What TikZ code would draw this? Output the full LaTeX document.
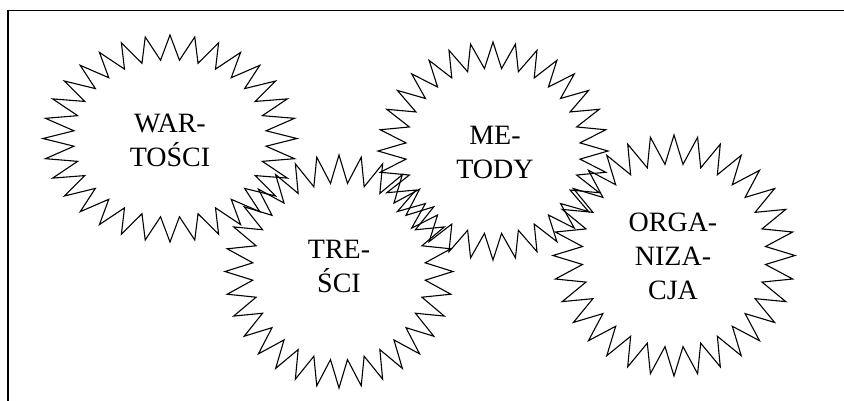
\documentclass[tikz,border=0pt]{standalone}
\usepackage{fontspec}
\setmainfont{Liberation Serif}
\tikzset{
  starline/.style={draw=black, line width=1.1pt, line join=miter},
  frameline/.style={draw=black, line width=1.7pt},
  lbl/.style={align=center, inner sep=0pt, font=\fontsize{28}{34}\selectfont}
}
\newcommand\mystarburst[4]{%
  \draw[starline, shift={(#1,#2)}] (90:#3 and #4)
    \foreach \i in {1,...,63} { -- ({90+\i*5.625}:{(1-0.24*mod(\i,2))*#3} and {(1-0.24*mod(\i,2))*#4}) } -- cycle;
}
\begin{document}
\begin{tikzpicture}[x=1pt, y=-1pt]
\useasboundingbox (0,0) rectangle (844,400);
\draw[frameline] (8,405) -- (8,10.5) -- (850,10.5);
\mystarburst{170}{138.5}{127}{103.5}
\mystarburst{339}{271.5}{114}{116.5}
\mystarburst{493}{151}{115}{109}
\mystarburst{674}{255.5}{121}{120.5}
\node[lbl] (wartosci) at (170,140.8) {WAR-\\TOŚCI};
\node[lbl] (tresci) at (339,266.5) {TRE-\\ŚCI};
\node[lbl] (metody) at (495,152) {ME-\\TODY};
\node[lbl] (organizacja) at (673,256.7) {ORGA-\\NIZA-\\CJA};
\end{tikzpicture}
\end{document}
